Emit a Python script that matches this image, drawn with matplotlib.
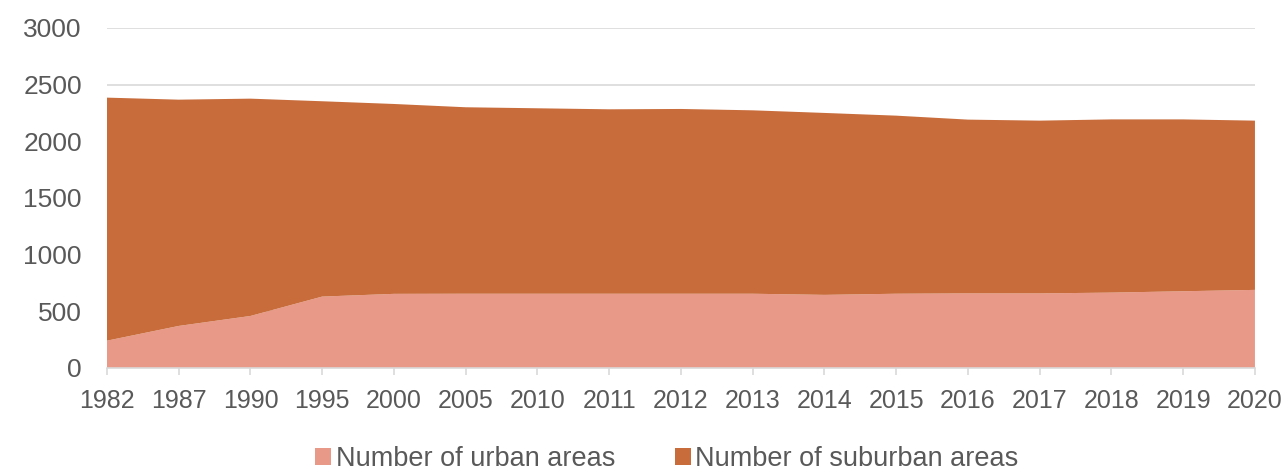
#!/usr/bin/env python3
"""
Stacked area chart: number of urban and suburban areas, 1982-2020.
"""

import numpy as np
import matplotlib
matplotlib.use('Agg')
import matplotlib.pyplot as plt

years = ['1982', '1987', '1990', '1995', '2000', '2005', '2010', '2011', '2012',
         '2013', '2014', '2015', '2016', '2017', '2018', '2019', '2020']
urban = [241, 371, 459, 630, 654, 655, 655, 655, 655,
         655, 645, 655, 658, 658, 665, 677, 689]
suburban = [2144, 1996, 1917, 1723, 1675, 1645, 1636, 1627, 1630,
            1618, 1605, 1571, 1533, 1524, 1528, 1516, 1493]
series_names = ['Number of urban areas', 'Number of suburban areas']

URBAN_COLOR = '#E99987'
SUBURBAN_COLOR = '#C86C3B'
TEXT_COLOR = '#595959'
GRID_COLOR = '#D9D9D9'

plt.rcParams['font.family'] = ['Liberation Sans', 'DejaVu Sans']

fig = plt.figure(figsize=(12.87, 4.73), dpi=100)
ax = fig.add_axes([0.0831, 0.222, 0.892, 0.719])

x = np.arange(len(years))
ax.stackplot(x, urban, suburban, colors=[URBAN_COLOR, SUBURBAN_COLOR],
             labels=series_names, linewidth=0)

ax.set_xlim(x[0], x[-1])
ax.set_ylim(0, 3000)
ax.set_yticks(np.arange(0, 3001, 500))
ax.set_xticks(x)
ax.set_xticklabels(years)

# light horizontal grid, behind the areas
ax.grid(True, axis='y', color=GRID_COLOR, linewidth=1.2)
ax.set_axisbelow(True)

for side in ['top', 'right', 'left']:
    ax.spines[side].set_visible(False)
ax.spines['bottom'].set_color(GRID_COLOR)
ax.spines['bottom'].set_linewidth(1.2)

ax.tick_params(axis='x', colors=GRID_COLOR, length=5, width=1.2,
               labelcolor=TEXT_COLOR, labelsize=18, pad=10)
ax.tick_params(axis='y', length=0, labelcolor=TEXT_COLOR, labelsize=19, pad=18)

handles, labels = ax.get_legend_handles_labels()
leg = fig.legend(handles, labels, loc='center', bbox_to_anchor=(0.518, 0.03),
                 ncol=2, frameon=False, fontsize=19.5, handlelength=0.6,
                 handleheight=0.6, handletextpad=0.15, columnspacing=2.2,
                 borderpad=0)
for t in leg.get_texts():
    t.set_color(TEXT_COLOR)

fig.savefig('out.png', dpi=100)
